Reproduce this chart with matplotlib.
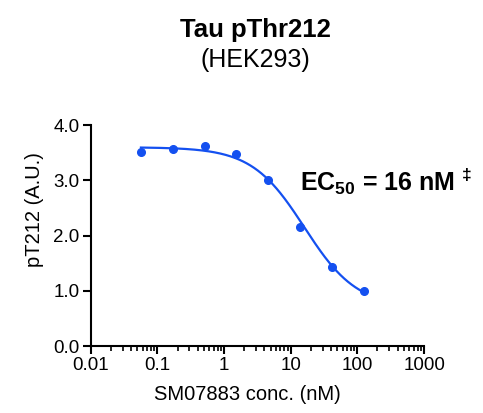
import numpy as np
import matplotlib
matplotlib.use('Agg')
import matplotlib.pyplot as plt
from matplotlib.ticker import LogLocator, NullFormatter

matplotlib.rcParams['font.family'] = ['Liberation Sans', 'DejaVu Sans']
matplotlib.rcParams['mathtext.fontset'] = 'custom'
matplotlib.rcParams['mathtext.rm'] = 'Liberation Sans'
matplotlib.rcParams['mathtext.bf'] = 'Liberation Sans:bold'

# measured points (3-fold dilution series)
conc = [0.0565, 0.169, 0.508, 1.52, 4.57, 13.7, 41.2, 123.5]
signal = [3.51, 3.56, 3.62, 3.47, 3.00, 2.15, 1.43, 0.99]

# four-parameter logistic fit shown in the figure
fit_top = 3.6
fit_bottom = 0.7
fit_ec50 = 16.0
fit_hill = 1.1

xtick_vals = [0.01, 0.1, 1, 10, 100, 1000]
xtick_labels = ['0.01', '0.1', '1', '10', '100', '1000']
ytick_vals = [0, 1, 2, 3, 4]
ytick_labels = ['0.0', '1.0', '2.0', '3.0', '4.0']

blue = '#1450F0'

fig = plt.figure(figsize=(4.83, 4.13), dpi=100)
ax = fig.add_axes([0.188, 0.162, 0.690, 0.535])

xs = np.logspace(np.log10(conc[0]), np.log10(conc[-1]), 300)
ys = fit_bottom + (fit_top - fit_bottom) / (1 + (xs / fit_ec50) ** fit_hill)
ax.plot(xs, ys, color=blue, lw=1.6, clip_on=False)
ax.plot(conc, signal, 'o', color=blue, ms=5.5, clip_on=False)

ax.set_xscale('log')
ax.set_xlim(0.01, 1000)
ax.set_ylim(0, 4.0)
ax.set_xticks(xtick_vals)
ax.set_xticklabels(xtick_labels)
ax.xaxis.set_minor_locator(LogLocator(base=10, subs=np.arange(2, 10), numticks=20))
ax.xaxis.set_minor_formatter(NullFormatter())
ax.set_yticks(ytick_vals)
ax.set_yticklabels(ytick_labels)

for s in ['top', 'right']:
    ax.spines[s].set_visible(False)
for s in ['left', 'bottom']:
    ax.spines[s].set_linewidth(1.5)
ax.tick_params(axis='both', which='major', direction='out', length=6, width=1.5,
               labelsize=13.5, pad=2)
ax.tick_params(axis='x', which='minor', direction='out', length=3.5, width=1.2)

ax.set_xlabel('SM07883 conc. (nM)', fontsize=14.5)
ax.set_ylabel('pT212 (A.U.)', fontsize=14.5)
ax.xaxis.set_label_coords(0.47, -0.178)
ax.yaxis.set_label_coords(-0.14, 0.62)

fig.text(0.528, 0.928, 'Tau pThr212', ha='center', va='center', fontsize=18.5, fontweight='bold')
fig.text(0.528, 0.855, '(HEK293)', ha='center', va='center', fontsize=18)

ax.text(0.627, 0.745, r'$\mathbf{EC_{50}}$ = 16 nM $^{\mathbf{‡}}$', transform=ax.transAxes,
        ha='left', va='center', fontsize=18, fontweight='bold', clip_on=False)

fig.savefig('out.png', dpi=100)
